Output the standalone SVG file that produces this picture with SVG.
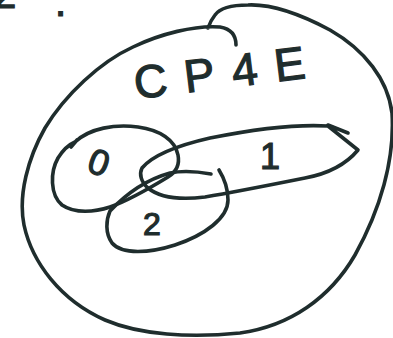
<svg xmlns="http://www.w3.org/2000/svg" width="393" height="338" viewBox="0 0 393 338">
<style>
.s{fill:none;stroke:#1f2d2d;stroke-width:3.6;stroke-linecap:round;stroke-linejoin:round}
.t{fill:#1f2d2d;stroke:#1f2d2d;stroke-width:1.2;font-family:"Liberation Sans",Arial,sans-serif}
</style>
<rect width="393" height="338" fill="#ffffff"/>
<text class="t" x="-6" y="8" font-size="40">2</text>
<text class="t" x="55" y="16" font-size="40">.</text>
<g id="outer">
<path class="s" d="M236,45 C236,36 232,29 220,27 C195,25 160,34 133,47 C100,62 65,95 45,128 C28,158 18,195 24,225 C32,262 60,300 105,320 C140,335 190,338 240,333 C290,326 330,298 355,255 C380,210 395,160 392,113 C388,80 365,50 330,30 C300,14 270,4 248,5 C232,5 220,8 215,15 C211,20 209,25 208,28"/>
<text class="t" x="136" y="99" font-size="46" textLength="172" lengthAdjust="spacing" transform="rotate(-7 136 99)">CP4E</text>
</g>
<g id="node0">
<path class="s" d="M75,142 C90,128 115,124 138,127 C160,130 175,140 178,155 C180,165 176,172 168,177 C150,188 130,200 110,207 C95,212 75,214 62,205 C50,195 50,172 58,158 C63,150 68,145 75,142 Z M71,147 L77,140"/>
<text class="t" x="99" y="175" font-size="36" text-anchor="middle" transform="rotate(20 99 162)">0</text>
</g>
<g id="node1">
<path class="s" d="M142,168 C152,156 175,146 210,138 C250,130 295,124 328,126 L358,150 C348,162 332,173 305,178 C270,185 235,192 205,197 C180,200 160,198 148,188 C141,182 139,174 142,168 Z M328,125 L348,133"/>
<text class="t" x="270" y="169" font-size="36" text-anchor="middle">1</text>
</g>
<g id="node2">
<path class="s" d="M110,211 C125,195 145,180 170,173 C185,170 200,172 211,174 M219,170 C224,178 228,188 228,200 C228,218 205,235 175,245 C150,253 122,255 112,243 C105,233 106,220 110,211"/>
<text class="t" x="152" y="235" font-size="32" text-anchor="middle">2</text>
</g>
</svg>
